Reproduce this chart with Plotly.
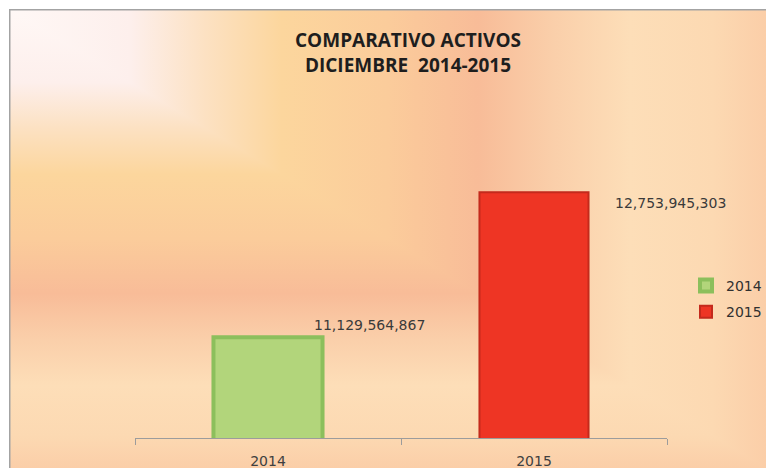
import base64
import plotly.graph_objects as go

# ---- data ----
YEARS = ["2014", "2015"]
VALUES = [11129564867, 12753945303]
TITLE_LINES = ["COMPARATIVO ACTIVOS", "DICIEMBRE  2014-2015"]

# ---- styles ----
BAR_COLORS = ["#B2D57B", "#EE3524"]
BAR_LINES = ["#8CBF5C", "#C42A1C"]
BAR_LINE_W = [4, 2]
LABEL_SHIFTS = [(44, 12), (79, -11)]   # (xshift, yshift) px from bar centre/top

W, H = 766, 468
ML, MR, MT, MB = 135, 99, 81, 30
PW, PH = W - ML - MR, H - MT - MB

# background: rectangular path gradient from top-left corner
BW, BH = 757, 459
stops = [(0, "#FFF8F6"), (0.16, "#FDEFEC"), (0.26, "#FCE1C2"), (0.36, "#FCD69D"),
         (0.5, "#FBCC9B"), (0.62, "#F8BC98"), (0.72, "#FACFAA"), (0.82, "#FDDEB8"),
         (0.93, "#FCD9B2"), (1.0, "#FBCEA8")]
st = "".join(f'<stop offset="{o}" stop-color="{c}"/>' for o, c in stops)
svg = f'''<svg xmlns="http://www.w3.org/2000/svg" width="{BW}" height="{BH}" viewBox="0 0 {BW} {BH}" preserveAspectRatio="none">
<defs>
<linearGradient id="gh" gradientUnits="userSpaceOnUse" x1="0" y1="0" x2="{BW}" y2="0">{st}</linearGradient>
<linearGradient id="gv" gradientUnits="userSpaceOnUse" x1="0" y1="0" x2="0" y2="{BH}">{st}</linearGradient>
</defs>
<rect x="0" y="0" width="{BW}" height="{BH}" fill="url(#gh)"/>
<polygon points="0,0 0,{BH} {BW},{BH}" fill="url(#gv)"/>
<line x1="0.75" y1="0" x2="0.75" y2="{BH}" stroke="#A3A3A3" stroke-width="1.5"/>
<line x1="0" y1="0.75" x2="{BW}" y2="0.75" stroke="#A3A3A3" stroke-width="1.5"/>
</svg>'''
src = "data:image/svg+xml;base64," + base64.b64encode(svg.encode()).decode()

fig = go.Figure()
for i, (yr, v) in enumerate(zip(YEARS, VALUES)):
    fig.add_trace(go.Bar(
        x=[yr], y=[v], name=yr, width=0.41,
        marker=dict(color=BAR_COLORS[i], line=dict(color=BAR_LINES[i], width=BAR_LINE_W[i])),
        legendgroup=yr, hoverinfo="skip",
    ))

annotations = []
for i, v in enumerate(VALUES):
    dx, dy = LABEL_SHIFTS[i]
    annotations.append(dict(
        x=i, y=v, xref="x", yref="y", text=f"{v:,}", showarrow=False,
        xanchor="left", yanchor="middle", xshift=dx, yshift=dy,
        font=dict(family="DejaVu Sans", size=14, color="#3A3A3A"),
    ))

annotations.append(dict(
    x=(408 - ML) / PW, y=(H - MB - 52) / PH, xref="paper", yref="paper",
    text="<br>".join(f"<b>{t}</b>" for t in TITLE_LINES), showarrow=False,
    xanchor="center", yanchor="middle", align="center",
    font=dict(family="Open Sans", size=19, color="#1E1E1E"),
))

fig.update_layout(
    width=W, height=H,
    margin=dict(l=ML, r=MR, t=MT, b=MB, pad=0, autoexpand=False),
    paper_bgcolor="white", plot_bgcolor="rgba(0,0,0,0)",
    barmode="overlay", showlegend=True,
    legend=dict(x=(686 - ML) / PW, y=(H - MB - 270) / PH, xanchor="left", yanchor="top",
                bgcolor="rgba(0,0,0,0)", tracegroupgap=5, traceorder="grouped",
                font=dict(family="DejaVu Sans", size=14, color="#303030")),
    xaxis=dict(type="category", range=[-0.5, 1.5], automargin=False, tickangle=0,
               showline=True, linecolor="#9C9C9C", linewidth=1,
               ticks="outside", tickson="boundaries", ticklen=6, tickcolor="#9C9C9C",
               showgrid=False, zeroline=False, ticklabelstandoff=10,
               tickfont=dict(family="DejaVu Sans", size=14, color="#404040")),
    yaxis=dict(range=[10e9, 14e9], visible=False, showgrid=False, zeroline=False),
    annotations=annotations,
    images=[dict(source=src, xref="paper", yref="paper",
                 x=(9 - ML) / PW, y=(H - MB - 9) / PH,
                 sizex=BW / PW, sizey=BH / PH, sizing="stretch",
                 xanchor="left", yanchor="top", layer="below")],
)

fig.write_html("out.html", config={"displayModeBar": False},
               post_script="document.body.style.margin='0';document.body.style.overflow='hidden';")
